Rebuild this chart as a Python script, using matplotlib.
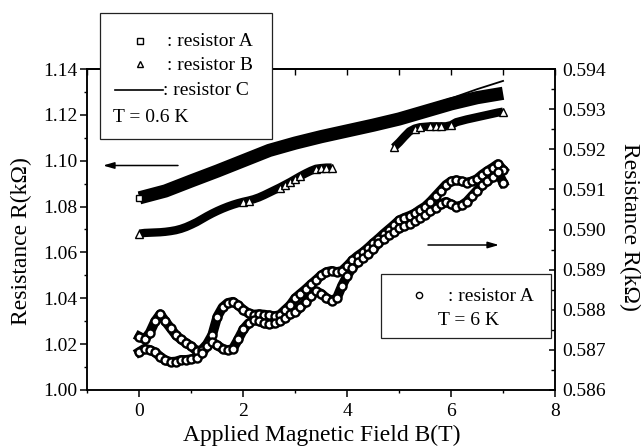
import numpy as np
import matplotlib
matplotlib.use('Agg')
import matplotlib.pyplot as plt
from matplotlib.ticker import MultipleLocator, FormatStrFormatter, NullFormatter
from matplotlib.patches import Rectangle, FancyArrowPatch
from matplotlib.lines import Line2D

plt.rcParams['font.family'] = ['Liberation Serif', 'DejaVu Serif']

# ---------------- data ----------------
# T = 0.6 K, left axis (kOhm)
field_A = [0.0, 0.5, 1.0, 1.5, 2.0, 2.5, 3.0, 3.5, 4.0, 4.5, 5.0, 5.5, 6.0, 6.5, 7.0]
res_A = [1.0838, 1.0868, 1.0912, 1.0955, 1.1000, 1.1045, 1.1077, 1.1105,
         1.1130, 1.1155, 1.1182, 1.1215, 1.1248, 1.1275, 1.1294]
res_C = [1.0858, 1.0888, 1.0932, 1.0975, 1.1020, 1.1065, 1.1097, 1.1125,
         1.1150, 1.1175, 1.1202, 1.1235, 1.1272, 1.1312, 1.1348]

field_B1 = [0.0, 0.1, 0.2, 0.3, 0.4, 0.5, 0.6, 0.7, 0.8, 0.9, 1.0, 1.1, 1.2, 1.3,
            1.4, 1.5, 1.6, 1.7, 1.8, 1.9, 2.0, 2.1, 2.2, 2.3, 2.4, 2.5, 2.6, 2.7,
            2.8, 2.9, 3.0, 3.1, 3.2, 3.3, 3.4, 3.5, 3.6, 3.7]
res_B1 = [1.0682, 1.0685, 1.0686, 1.0687, 1.0688, 1.0690, 1.0693, 1.0697, 1.0703,
          1.0711, 1.0721, 1.0732, 1.0745, 1.0758, 1.0770, 1.0781, 1.0791, 1.0800,
          1.0808, 1.0815, 1.0821, 1.0826, 1.0832, 1.0840, 1.0850, 1.0861, 1.0872,
          1.0883, 1.0895, 1.0907, 1.0920, 1.0933, 1.0945, 1.0956, 1.0965, 1.0968,
          1.0970, 1.0970]
field_B2 = [4.9, 5.0, 5.1, 5.2, 5.3, 5.4, 5.5, 5.6, 5.7, 5.8, 5.9, 6.0, 6.1, 6.2,
            6.3, 6.4, 6.5, 6.6, 6.7, 6.8, 6.9, 7.0]
res_B2 = [1.1058, 1.1080, 1.1105, 1.1128, 1.1140, 1.1146, 1.1148, 1.1150, 1.1150,
          1.1150, 1.1150, 1.1155, 1.1168, 1.1174, 1.1180, 1.1185, 1.1190, 1.1195,
          1.1200, 1.1205, 1.1210, 1.1214]
tri_B1 = [0, 20, 21, 27, 28, 29, 30, 31, 34, 35, 36, 37]
tri_B2 = [0, 4, 5, 7, 8, 9, 11, 21]

# T = 6 K, resistor A, right axis (kOhm), two field sweeps
field_6K = [round(0.1 * i, 1) for i in range(71)]
res_6K_up = [0.58733, 0.58726, 0.58743, 0.58771, 0.58789, 0.58771, 0.58754, 0.58737,
             0.58726, 0.58717, 0.58709, 0.58697, 0.58700, 0.58714, 0.58737, 0.58783,
             0.58806, 0.58817, 0.58820, 0.58811, 0.58800, 0.58791, 0.58788, 0.58789,
             0.58788, 0.58786, 0.58784, 0.58787, 0.58799, 0.58811, 0.58829, 0.58840,
             0.58851, 0.58863, 0.58874, 0.58886, 0.58894, 0.58897, 0.58894, 0.58897,
             0.58909, 0.58923, 0.58934, 0.58943, 0.58954, 0.58966, 0.58977, 0.58989,
             0.59000, 0.59011, 0.59023, 0.59029, 0.59034, 0.59040, 0.59049, 0.59057,
             0.59069, 0.59083, 0.59097, 0.59111, 0.59120, 0.59123, 0.59120, 0.59117,
             0.59120, 0.59126, 0.59137, 0.59146, 0.59154, 0.59163, 0.59149]
res_6K_down = [0.58695, 0.58703, 0.58700, 0.58694, 0.58683, 0.58674, 0.58670, 0.58671,
               0.58675, 0.58675, 0.58677, 0.58680, 0.58691, 0.58709, 0.58720, 0.58711,
               0.58703, 0.58699, 0.58703, 0.58726, 0.58751, 0.58766, 0.58774, 0.58772,
               0.58766, 0.58764, 0.58766, 0.58771, 0.58779, 0.58790, 0.58794, 0.58806,
               0.58820, 0.58834, 0.58846, 0.58840, 0.58829, 0.58823, 0.58829, 0.58860,
               0.58885, 0.58905, 0.58920, 0.58930, 0.58940, 0.58951, 0.58966, 0.58977,
               0.58986, 0.58994, 0.59003, 0.59009, 0.59014, 0.59020, 0.59029, 0.59037,
               0.59046, 0.59054, 0.59063, 0.59069, 0.59063, 0.59057, 0.59060, 0.59069,
               0.59083, 0.59097, 0.59111, 0.59120, 0.59131, 0.59143, 0.59117]

left_ticks = [1.00, 1.02, 1.04, 1.06, 1.08, 1.10, 1.12, 1.14]
right_ticks = [0.586, 0.587, 0.588, 0.589, 0.590, 0.591, 0.592, 0.593, 0.594]
x_ticks = [0, 2, 4, 6, 8]

# ---------------- figure ----------------
W, H = 642, 447
fig = plt.figure(figsize=(W / 100, H / 100), dpi=100)
L, R, T, B = 87.5, 555, 69, 390
ax = fig.add_axes([L / W, 1 - B / H, (R - L) / W, (B - T) / H])
ax2 = ax.twinx()

ax.set_xlim(-1, 8)
ax.set_ylim(1.00, 1.14)
ax2.set_ylim(0.586, 0.594)

k = 'black'
# resistor A (dense squares -> solid band)
ax.plot(field_A, res_A, color=k, lw=9.5, solid_capstyle='butt', zorder=2)
ax.plot(field_A, res_A, ls='none', marker='s', ms=5, mfc='white', mec=k, mew=1.0,
        markevery=[0], zorder=3)
# resistor C line
ax.plot(field_A, res_C, color=k, lw=1.3, zorder=3)
# resistor B (dense triangles -> band with some visible triangles)
for fx_, fy_, idx in ((field_B1, res_B1, tri_B1), (field_B2, res_B2, tri_B2)):
    ax.plot(fx_, fy_, color=k, lw=6, solid_capstyle='butt', zorder=2)
    ax.plot(fx_, fy_, ls='none', marker='^', ms=5.5, mfc='white', mec=k, mew=1.0,
            markevery=idx, zorder=3)

# 6 K data, right axis
for ys in (res_6K_up, res_6K_down):
    ax2.plot(field_6K, ys, color=k, lw=7, zorder=2)
for ys in (res_6K_up, res_6K_down):
    ax2.plot(field_6K, ys, ls='none', marker='o', ms=5.8, mfc='white', mec=k,
             mew=1.7, zorder=3)

# ---------------- axes styling ----------------
fs_tick = 14
for a in (ax, ax2):
    for s in a.spines.values():
        s.set_linewidth(1.1)

ax.set_xticks(x_ticks)
ax.xaxis.set_minor_locator(MultipleLocator(1))
ax.set_yticks(left_ticks)
ax.yaxis.set_minor_locator(MultipleLocator(0.01))
ax.yaxis.set_major_formatter(FormatStrFormatter('%.2f'))
ax.tick_params(axis='both', which='major', direction='out', length=5, width=1.1,
               labelsize=fs_tick, top=False, right=False)
ax.tick_params(axis='both', which='minor', direction='out', length=2.5, width=1.0,
               top=False, right=False)
ax.tick_params(axis='x', which='major', pad=4)
ax.tick_params(axis='y', which='major', pad=2)

ax2.set_yticks(right_ticks)
ax2.yaxis.set_minor_locator(MultipleLocator(0.0005))
ax2.yaxis.set_major_formatter(FormatStrFormatter('%.3f'))
ax2.tick_params(axis='y', which='major', direction='in', length=4, width=1.1,
                labelsize=fs_tick, pad=5.5)
ax2.tick_params(axis='y', which='minor', direction='in', length=3, width=1.0)

sec = ax.secondary_xaxis('top')
sec.set_xticks([-1, 0, 1, 2, 3, 4, 5, 6, 7, 8])
sec.xaxis.set_major_formatter(NullFormatter())
sec.tick_params(axis='x', direction='in', length=4, width=1.0)
sec.spines['top'].set_linewidth(1.1)

# axis labels
fs_lab = 17
fig.text(322 / W, 1 - 441.5 / H, 'Applied Magnetic Field B(T)', fontsize=fs_lab,
         ha='center', va='baseline')
fig.text(21.5 / W, 1 - 241 / H, 'Resistance R(k\u03a9)', fontsize=fs_lab,
         rotation=90, ha='center', va='center')
fig.text(630 / W, 1 - 226.5 / H, 'Resistance R(k\u03a9)', fontsize=fs_lab,
         rotation=270, ha='center', va='center')

# ---------------- legend boxes ----------------
def fx(p):
    return p / W

def fy(p):
    return 1 - p / H

fs_leg = 14
box1 = Rectangle((fx(100), fy(139)), (272 - 100) / W, (139 - 13) / H,
                 transform=fig.transFigure, facecolor='white', edgecolor='#222222',
                 lw=0.9, zorder=5)
fig.add_artist(box1)
fig.add_artist(Line2D([fx(140)], [fy(40.7)], marker='s', ms=4.2, mfc='white', mec=k,
                      mew=1.0, ls='none', transform=fig.transFigure, zorder=6))
fig.add_artist(Line2D([fx(140)], [fy(64)], marker='^', ms=4.8, mfc='white', mec=k,
                      mew=1.0, ls='none', transform=fig.transFigure, zorder=6))
fig.add_artist(Line2D([fx(115), fx(163)], [fy(90), fy(90)], color=k, lw=1.2,
                      transform=fig.transFigure, zorder=6))
fig.text(fx(167), fy(46.5), ': resistor A', fontsize=fs_leg, va='baseline', zorder=7)
fig.text(fx(167), fy(70), ': resistor B', fontsize=fs_leg, va='baseline', zorder=7)
fig.text(fx(163), fy(95), ': resistor C', fontsize=fs_leg, va='baseline', zorder=7)
fig.text(fx(113), fy(121.5), 'T = 0.6 K', fontsize=fs_leg, va='baseline', zorder=7)

box2 = Rectangle((fx(381), fy(337.5)), (551 - 381) / W, (337.5 - 274) / H,
                 transform=fig.transFigure, facecolor='white', edgecolor='#222222',
                 lw=0.9, zorder=5)
fig.add_artist(box2)
fig.add_artist(Line2D([fx(418.5)], [fy(295)], marker='o', ms=4.5, mfc='white', mec=k,
                      mew=1.0, ls='none', transform=fig.transFigure, zorder=6))
fig.text(fx(448), fy(301), ': resistor A', fontsize=fs_leg, va='baseline', zorder=7)
fig.text(fx(438), fy(325), 'T = 6 K', fontsize=fs_leg, va='baseline', zorder=7)

# ---------------- arrows ----------------
for (x0, x1, yy) in ((178, 103, 165.5), (428, 499, 245)):
    fig.add_artist(FancyArrowPatch((fx(x0), fy(yy)), (fx(x1), fy(yy)),
                                   transform=fig.transFigure,
                                   arrowstyle='-|>,head_length=0.55,head_width=0.16',
                                   mutation_scale=12, lw=1.1, color=k,
                                   shrinkA=0, shrinkB=0, zorder=6))

fig.savefig('out.png', dpi=100)
